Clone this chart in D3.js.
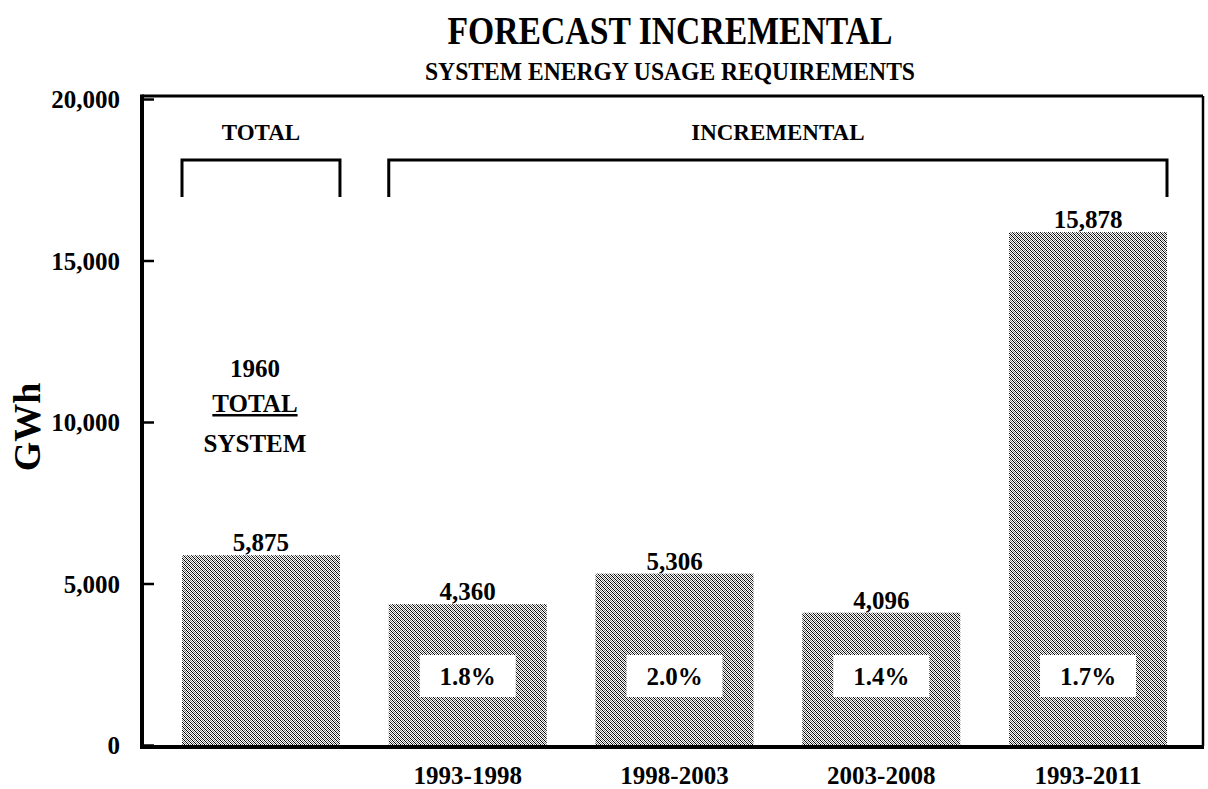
<!DOCTYPE html>
<html>
<head>
<meta charset="utf-8">
<script src="https://cdn.jsdelivr.net/npm/d3@7/dist/d3.min.js"></script>
<style>
  html, body { margin: 0; padding: 0; background: #fff; }
  svg { display: block; }
  text { font-family: "Liberation Serif", "Times New Roman", serif; font-weight: bold; fill: #000; }
</style>
</head>
<body>
<svg id="chart" width="1208" height="789"></svg>
<script>
// Energy usage: 1960 total system, then forecast increments by period
const categories = ["1960", "1993-1998", "1998-2003", "2003-2008", "1993-2011"];
const xTickLabels = ["", "1993-1998", "1998-2003", "2003-2008", "1993-2011"];
const values = [5875, 4360, 5306, 4096, 15878];
const growthRates = [null, "1.8%", "2.0%", "1.4%", "1.7%"];
const yTickValues = [0, 5000, 10000, 15000, 20000];
const totalNote = ["1960", "TOTAL", "SYSTEM"];

const svg = d3.select("#chart");

const plot = { left: 142, right: 1203, top: 96, bottom: 746 };

const y = d3.scaleLinear().domain([0, 20000]).range([745, 99]);
const x = d3.scaleBand()
  .domain(categories)
  .range([182, 1167])
  .paddingInner(0.236)
  .paddingOuter(0);

// bar fill: fine diagonal dither
const defs = svg.append("defs");
const pat = defs.append("pattern")
  .attr("id", "dither")
  .attr("patternUnits", "userSpaceOnUse")
  .attr("width", 4).attr("height", 4);
pat.append("rect").attr("width", 4).attr("height", 4).attr("fill", "#fff");
[[0,0],[1,1],[2,2],[3,3]].forEach(([px, py]) =>
  pat.append("rect").attr("x", px).attr("y", py).attr("width", 1).attr("height", 1)
    .attr("fill", "#000").attr("shape-rendering", "crispEdges"));
[[2,0],[3,1],[0,2],[1,3]].forEach(([px, py]) =>
  pat.append("rect").attr("x", px).attr("y", py).attr("width", 1).attr("height", 1)
    .attr("fill", "#777").attr("shape-rendering", "crispEdges"));

// titles (condensed bold face)
const cx = 670;
svg.append("text").attr("x", cx).attr("y", 44)
  .attr("text-anchor", "middle").attr("font-size", 39)
  .attr("textLength", 445).attr("lengthAdjust", "spacingAndGlyphs")
  .text("FORECAST INCREMENTAL");
svg.append("text").attr("x", cx).attr("y", 80)
  .attr("text-anchor", "middle").attr("font-size", 26)
  .attr("textLength", 490).attr("lengthAdjust", "spacingAndGlyphs")
  .text("SYSTEM ENERGY USAGE REQUIREMENTS");

// bars
svg.append("g").selectAll("rect")
  .data(values)
  .join("rect")
  .attr("x", (d, i) => x(categories[i]))
  .attr("y", d => y(d))
  .attr("width", x.bandwidth())
  .attr("height", d => y(0) - y(d))
  .attr("fill", "url(#dither)");

// value labels
svg.append("g").selectAll("text")
  .data(values)
  .join("text")
  .attr("x", (d, i) => x(categories[i]) + x.bandwidth() / 2)
  .attr("y", d => y(d) - 4)
  .attr("text-anchor", "middle")
  .attr("font-size", 25)
  .text(d => d3.format(",")(d));

// growth-rate boxes inside the incremental bars
const rateG = svg.append("g");
growthRates.forEach((r, i) => {
  if (!r) return;
  const c = x(categories[i]) + x.bandwidth() / 2;
  rateG.append("rect")
    .attr("x", c - 48).attr("y", y(0) - 90)
    .attr("width", 96).attr("height", 42)
    .attr("fill", "#fff");
  rateG.append("text")
    .attr("x", c).attr("y", y(0) - 60)
    .attr("text-anchor", "middle")
    .attr("font-size", 25)
    .text(r);
});

// frame
svg.append("line").attr("x1", plot.left).attr("x2", plot.right)
  .attr("y1", plot.top).attr("y2", plot.top)
  .attr("stroke", "#000").attr("stroke-width", 3);
svg.append("line").attr("x1", plot.right).attr("x2", plot.right)
  .attr("y1", plot.top).attr("y2", plot.bottom)
  .attr("stroke", "#000").attr("stroke-width", 2.5);
svg.append("line").attr("x1", plot.left - 2).attr("x2", plot.right + 1)
  .attr("y1", plot.bottom + 1).attr("y2", plot.bottom + 1)
  .attr("stroke", "#000").attr("stroke-width", 4);

// y axis
const yAxis = d3.axisLeft(y)
  .tickValues(yTickValues)
  .tickFormat(d3.format(","))
  .tickSize(-12)
  .tickPadding(22);
const gy = svg.append("g").attr("transform", `translate(${plot.left},0)`).call(yAxis);
gy.select(".domain").remove();
gy.selectAll(".tick line").attr("stroke", "#000").attr("stroke-width", 2.5);
gy.selectAll(".tick text").attr("font-size", 25).attr("font-family", null).attr("dy", "0.35em");
svg.append("line").attr("x1", plot.left).attr("x2", plot.left)
  .attr("y1", plot.top - 1.5).attr("y2", plot.bottom + 3)
  .attr("stroke", "#000").attr("stroke-width", 4);

svg.append("text")
  .attr("transform", `translate(40,${y(10000) + 5}) rotate(-90)`)
  .attr("text-anchor", "middle")
  .attr("font-size", 38)
  .text("GWh");

// x axis labels
const xAxis = d3.axisBottom(x)
  .tickFormat((d, i) => xTickLabels[i])
  .tickSize(0)
  .tickPadding(20);
const gx = svg.append("g").attr("transform", `translate(0,${plot.bottom})`).call(xAxis);
gx.select(".domain").remove();
gx.selectAll(".tick text").attr("font-size", 25).attr("font-family", null);

// group brackets
function bracket(x0, x1, label) {
  const top = 160, bot = 197;
  svg.append("path")
    .attr("d", `M${x0},${bot}V${top}H${x1}V${bot}`)
    .attr("fill", "none").attr("stroke", "#000").attr("stroke-width", 3);
  svg.append("text").attr("x", (x0 + x1) / 2).attr("y", 140)
    .attr("text-anchor", "middle").attr("font-size", 23)
    .text(label);
}
bracket(x(categories[0]), x(categories[0]) + x.bandwidth(), "TOTAL");
bracket(x(categories[1]), x(categories[4]) + x.bandwidth(), "INCREMENTAL");

// note above the 1960 bar
const noteX = x(categories[0]) + x.bandwidth() / 2 - 6;
const noteY = [377, 412, 452];
totalNote.forEach((t, i) => {
  svg.append("text").attr("x", noteX).attr("y", noteY[i])
    .attr("text-anchor", "middle").attr("font-size", 25)
    .style("text-decoration", i === 1 ? "underline" : null)
    .text(t);
});
</script>
</body>
</html>
